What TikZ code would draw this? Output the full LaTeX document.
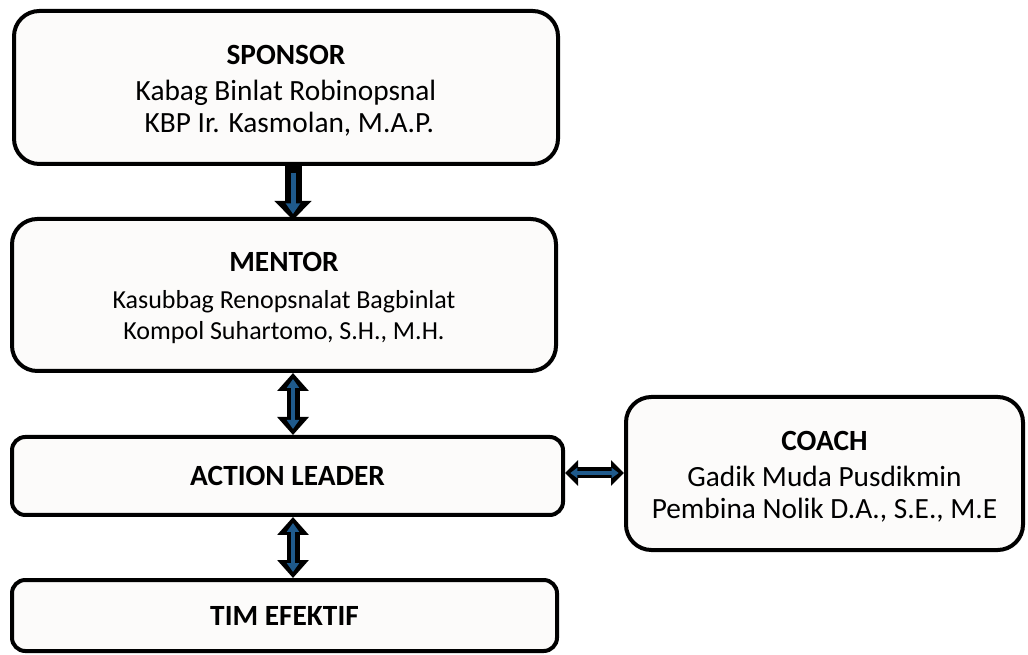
\documentclass[tikz,border=0pt]{standalone}
\usepackage{fontspec}
\setmainfont{Carlito}
\usetikzlibrary{arrows.meta,positioning}
\definecolor{boxfill}{RGB}{252,251,250}
\definecolor{arrowblue}{RGB}{31,90,140}
\newcommand{\rolehead}[1]{{\bfseries #1}}
\newcommand{\toppad}{\rule{0pt}{19pt}}
\newcommand{\smallline}{\fontsize{19.5}{23.5}\selectfont}
\tikzset{
    %Define style for boxes
    role/.style={
           rectangle,
           rounded corners=19pt,
           draw=black, line width=3pt,
           fill=boxfill,
           inner sep=0pt,
           align=center,
           font=\fontsize{22}{23.5}\selectfont},
    rolesmall/.style={
           role,
           rounded corners=10pt},
    % Define block arrow styles
    blkout/.style={
           draw=black, line width=12.75pt,
           -{Triangle[width=27pt,length=14.25pt]}},
    blkin/.style={
           draw=arrowblue, line width=3.75pt,
           shorten <=5pt, shorten >=4.5pt,
           -{Triangle[width=10.5pt,length=8pt]}},
    dblout/.style={
           draw=black, line width=9.75pt,
           {Triangle[width=23pt,length=13.5pt]}-{Triangle[width=23pt,length=13.5pt]}},
    dblin/.style={
           draw=arrowblue, line width=3pt,
           shorten <=4.5pt, shorten >=4.5pt,
           {Triangle[width=9pt,length=6.75pt]}-{Triangle[width=9pt,length=6.75pt]}},
    sideout/.style={
           draw=black, line width=8.25pt,
           {Triangle[width=18.75pt,length=9.75pt]}-{Triangle[width=18.75pt,length=9.75pt]}},
    sidein/.style={
           draw=arrowblue, line width=3pt,
           shorten <=4pt, shorten >=4pt,
           {Triangle[width=7.5pt,length=5.25pt]}-{Triangle[width=7.5pt,length=5.25pt]}}
}
\begin{document}
\begin{tikzpicture}[x=0.75pt,y=-0.75pt]
\useasboundingbox (0,0) rectangle (1028,655);
 %nodes
\node[role, minimum width=408pt, minimum height=114.75pt](sponsor) at (286,87.5)
    {\toppad\rolehead{SPONSOR}\\[4pt]Kabag Binlat Robinopsnal\\\ KBP Ir. Kasmolan, M.A.P.};
\node[role, minimum width=408pt, minimum height=114pt](mentor) at (284,295)
    {\toppad\rolehead{MENTOR}\\[4pt]\smallline Kasubbag Renopsnalat Bagbinlat\\\smallline Kompol Suhartomo, S.H., M.H.};
\node[rolesmall, minimum width=413.25pt, minimum height=58.5pt](leader) at (287.5,476)
    {\rolehead{ACTION LEADER}};
\node[rolesmall, minimum width=408.75pt, minimum height=53.25pt](tim) at (284.5,615.5)
    {\rolehead{TIM EFEKTIF}};
\node[role, minimum width=297.75pt, minimum height=114.75pt](coach) at (824.5,473.5)
    {\toppad\rolehead{COACH}\\[4pt]Gadik Muda Pusdikmin\\Pembina Nolik D.A., S.E., M.E};
\coordinate (col) at (293,0);
\coordinate (row) at (0,473);
 %arrows
\draw[blkout] (sponsor.south -| col) -- ([yshift=-2.25pt]mentor.north -| col);
\draw[blkin] (sponsor.south -| col) -- ([yshift=-2.25pt]mentor.north -| col);
\draw[dblout] (mentor.south -| col) -- (leader.north -| col);
\draw[dblin] (mentor.south -| col) -- (leader.north -| col);
\draw[dblout] (leader.south -| col) -- (tim.north -| col);
\draw[dblin] (leader.south -| col) -- (tim.north -| col);
\draw[sideout] (leader.east |- row) -- (coach.west |- row);
\draw[sidein] (leader.east |- row) -- (coach.west |- row);
\end{tikzpicture}
\end{document}
